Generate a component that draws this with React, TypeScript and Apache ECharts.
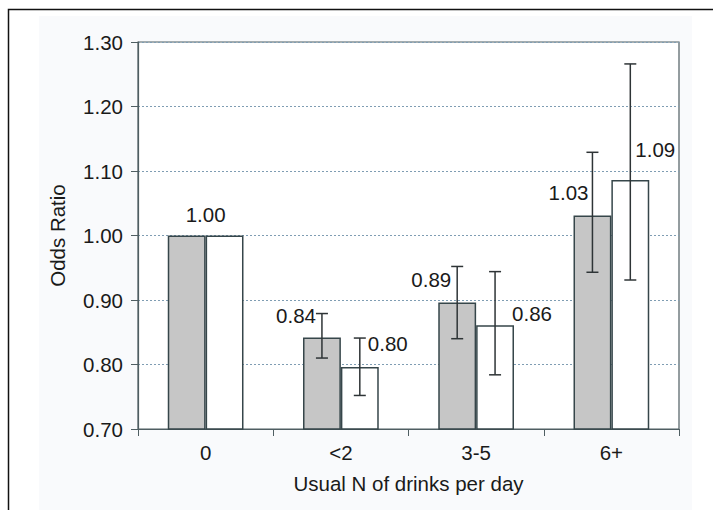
import React, { useEffect, useRef } from "react";
import * as echarts from "echarts";

const categories = ["0", "<2", "3-5", "6+"];
const greyValues = [1.0, 0.842, 0.896, 1.031];
const whiteValues = [1.0, 0.796, 0.861, 1.086];
const greyLow = [null, 0.81, 0.84, 0.943];
const greyHigh = [null, 0.879, 0.952, 1.129];
const whiteLow = [null, 0.752, 0.784, 0.931];
const whiteHigh = [null, 0.841, 0.944, 1.266];
const greyLabels = ["1.00", "0.84", "0.89", "1.03"];
const whiteLabels = ["1.00", "0.80", "0.86", "1.09"];
const yTicks = [0.7, 0.8, 0.9, 1.0, 1.1, 1.2, 1.3];

// label placement relative to bar centre / bar top (pixels)
const greyLabelLayout = [null, { dx: -6, dy: -22 }, { dx: -6, dy: -23 }, { dx: -4, dy: -23 }];
const whiteLabelLayout = [null, { dx: 8, dy: -24 }, { dx: 17, dy: -12 }, { dx: 5, dy: -31 }];

const BAR_FRAC = 0.28;
const FS = 20.5;
const FONT = "'Liberation Sans', Arial, sans-serif";
const TEXT = "#1a1a1a";
const AXIS = "#4f5e62";
const BAR_EDGE = "#36464a";

export default function App() {
  const ref = useRef<HTMLDivElement>(null);
  useEffect(() => {
    document.body.style.margin = "0";
    const chart = echarts.init(ref.current!, null, { renderer: "svg" });

    const errData: any[] = [];
    categories.forEach((_, i) => {
      if (greyLow[i] != null) errData.push([i, greyLow[i], greyHigh[i], 0]);
      if (whiteLow[i] != null) errData.push([i, whiteLow[i], whiteHigh[i], 1]);
    });
    const labelData: any[] = [];
    categories.forEach((_, i) => {
      if (greyLabelLayout[i] == null) {
        labelData.push([i, greyValues[i], -1, greyLabels[i], 0, -21, "center"]);
      } else {
        const g = greyLabelLayout[i]!;
        labelData.push([i, greyValues[i], 0, greyLabels[i], g.dx, g.dy, "right"]);
        const w = whiteLabelLayout[i]!;
        labelData.push([i, whiteValues[i], 1, whiteLabels[i], w.dx, w.dy, "left"]);
      }
    });

    const sideOffset = (api: any, side: number) => {
      const band = api.size([1, 0])[0];
      if (side < 0) return 0;
      return (side === 0 ? -1 : 1) * band * BAR_FRAC / 2;
    };

    chart.setOption({
      animation: false,
      backgroundColor: "#ffffff",
      graphic: [
        { type: "rect", shape: { x: 39, y: 16, width: 653, height: 500 }, style: { fill: "#f9fafc" }, z: -10 },
        { type: "rect", shape: { x: 8.5, y: 9.5, width: 720, height: 520 }, style: { fill: "none", stroke: "#111", lineWidth: 1.5 }, z: 10 },
      ],
      grid: {
        left: 138, right: 34, top: 42, bottom: 81,
        show: true, borderColor: AXIS, borderWidth: 1.2, backgroundColor: "#ffffff",
      },
      xAxis: {
        type: "category",
        data: categories,
        name: "Usual N of drinks per day",
        nameLocation: "middle",
        nameGap: 44,
        nameTextStyle: { fontFamily: FONT, fontSize: FS, color: TEXT },
        axisLine: { lineStyle: { color: AXIS, width: 1.2 } },
        axisTick: { show: true, length: 7, lineStyle: { color: AXIS } },
        axisLabel: { fontFamily: FONT, fontSize: FS, color: TEXT, margin: 13 },
      },
      yAxis: {
        type: "value",
        min: yTicks[0],
        max: yTicks[yTicks.length - 1],
        interval: 0.1,
        name: "Odds Ratio",
        nameLocation: "middle",
        nameGap: 70,
        nameTextStyle: { fontFamily: FONT, fontSize: FS, color: TEXT },
        axisLine: { show: true, lineStyle: { color: AXIS, width: 1.2 } },
        axisTick: { show: true, length: 7, lineStyle: { color: AXIS } },
        axisLabel: {
          fontFamily: FONT, fontSize: FS, color: TEXT, margin: 15,
          formatter: (v: number) => v.toFixed(2),
        },
        splitLine: { show: true, lineStyle: { color: "#7f9db3", type: [2, 2], width: 1 } },
      },
      series: [
        {
          type: "bar",
          data: greyValues,
          barWidth: BAR_FRAC * 100 + "%",
          barGap: "0%",
          itemStyle: { color: "#c6c6c6", borderColor: BAR_EDGE, borderWidth: 1.5 },
          z: 2,
        },
        {
          type: "bar",
          data: whiteValues,
          barWidth: BAR_FRAC * 100 + "%",
          barGap: "0%",
          itemStyle: { color: "#ffffff", borderColor: BAR_EDGE, borderWidth: 1.5 },
          z: 2,
        },
        {
          type: "custom",
          data: errData,
          encode: { x: 0, y: [1, 2] },
          z: 5,
          renderItem: (params: any, api: any) => {
            const i = api.value(0);
            const lo = api.coord([i, api.value(1)]);
            const hi = api.coord([i, api.value(2)]);
            const x = lo[0] + sideOffset(api, api.value(3));
            const cap = 6;
            const style = { stroke: "#2e3436", lineWidth: 1.5 };
            return {
              type: "group",
              children: [
                { type: "line", shape: { x1: x, y1: lo[1], x2: x, y2: hi[1] }, style },
                { type: "line", shape: { x1: x - cap, y1: lo[1], x2: x + cap, y2: lo[1] }, style },
                { type: "line", shape: { x1: x - cap, y1: hi[1], x2: x + cap, y2: hi[1] }, style },
              ],
            };
          },
        },
        {
          type: "custom",
          data: labelData,
          encode: { x: 0, y: 1 },
          z: 6,
          renderItem: (params: any, api: any) => {
            const item = labelData[params.dataIndex];
            const p = api.coord([item[0], item[1]]);
            const x = p[0] + sideOffset(api, item[2]) + item[4];
            const y = p[1] + item[5];
            return {
              type: "text",
              x, y,
              style: {
                text: item[3], fontFamily: FONT, fontSize: FS, fill: TEXT,
                align: item[6], verticalAlign: "middle",
              },
            };
          },
        },
      ],
    });
    return () => chart.dispose();
  }, []);
  return <div ref={ref} style={{ width: 713, height: 510 }} />;
}
